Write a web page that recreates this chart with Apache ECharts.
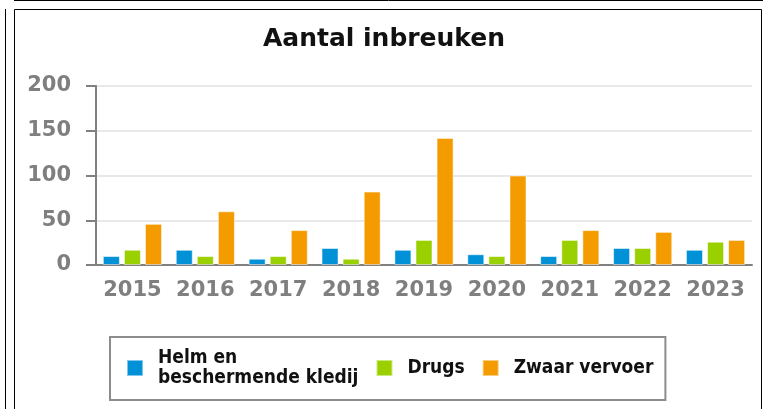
<!DOCTYPE html>
<html>
<head>
<meta charset="utf-8">
<title>Aantal inbreuken</title>
<script src="https://cdn.jsdelivr.net/npm/echarts@6/dist/echarts.min.js"></script>
<style>
  html, body { margin: 0; padding: 0; background: #fff; }
  #chart { width: 768px; height: 409px; }
</style>
</head>
<body>
<div id="chart"></div>
<script>
const years = ["2015", "2016", "2017", "2018", "2019", "2020", "2021", "2022", "2023"];
const helm = [10, 17, 7, 19, 17, 12, 10, 19, 17];
const drugs = [17, 10, 10, 7, 28, 10, 28, 19, 26];
const zwaar = [46, 60, 39, 82, 142, 100, 39, 37, 28];
const seriesNames = ["Helm en\nbeschermende kledij", "Drugs", "Zwaar vervoer"];
const colors = ["#0091d7", "#9bd000", "#f49b00"];

const axisFont = {
  fontFamily: "DejaVu Sans",
  fontWeight: "bold",
  fontSize: 21,
  color: "#7f7f7f"
};

function barSeries(name, data, color) {
  return {
    name: name,
    type: "bar",
    data: data,
    barWidth: 17,
    barGap: "24%",
    itemStyle: {
      color: color,
      borderColor: "rgba(255,255,255,0.5)",
      borderWidth: 1
    }
  };
}

const chart = echarts.init(document.getElementById("chart"));
chart.setOption({
  animation: false,
  title: {
    text: "Aantal inbreuken",
    left: "center",
    top: 22,
    textStyle: {
      fontFamily: "DejaVu Sans",
      fontWeight: "bold",
      fontSize: 25,
      color: "#111"
    }
  },
  grid: { left: 96, right: 16, top: 86, bottom: 144 },
  xAxis: {
    type: "category",
    data: years,
    axisLine: { lineStyle: { color: "#808080", width: 2 } },
    axisTick: { length: 8, lineStyle: { color: "#808080", width: 2 } },
    axisLabel: Object.assign({ margin: 15, interval: 0, hideOverlap: false }, axisFont)
  },
  yAxis: {
    type: "value",
    min: 0,
    max: 200,
    interval: 50,
    axisLine: { show: true, lineStyle: { color: "#808080", width: 2 } },
    axisTick: { show: true, length: 10, lineStyle: { color: "#808080", width: 2 } },
    splitLine: { lineStyle: { color: "#e8e8e8", width: 2 } },
    axisLabel: Object.assign({ margin: 25 }, axisFont)
  },
  legend: {
    left: 110,
    top: 337,
    padding: [11, 12, 12, 16],
    itemWidth: 16,
    itemHeight: 16,
    itemGap: 17,
    borderColor: "#8c8c8c",
    borderWidth: 2,
    backgroundColor: "#fff",
    icon: "rect",
    textStyle: {
      fontFamily: "DejaVu Sans Condensed",
      fontWeight: "bold",
      fontSize: 19,
      lineHeight: 20,
      color: "#111",
      padding: [0, 0, 0, 10]
    },
    data: seriesNames
  },
  series: [
    barSeries(seriesNames[0], helm, colors[0]),
    barSeries(seriesNames[1], drugs, colors[1]),
    barSeries(seriesNames[2], zwaar, colors[2])
  ],
  graphic: [
    { type: "line", shape: { x1: 14, y1: 0.5, x2: 763, y2: 0.5 }, style: { stroke: "#000", lineWidth: 1 } },
    { type: "line", shape: { x1: 5.5, y1: 9, x2: 5.5, y2: 409 }, style: { stroke: "#000", lineWidth: 1 } },
    { type: "rect", shape: { x: 14.5, y: 9.5, width: 747, height: 410 }, style: { stroke: "#000", fill: null, lineWidth: 1 } }
  ]
});
</script>
</body>
</html>
